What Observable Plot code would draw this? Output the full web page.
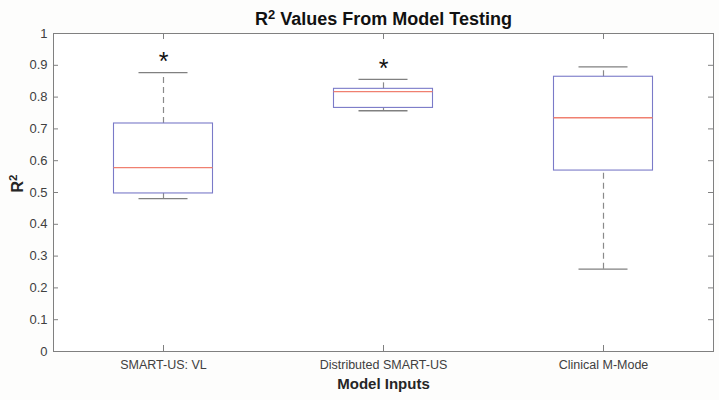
<!DOCTYPE html>
<html>
<head>
<meta charset="utf-8">
<script src="https://cdn.jsdelivr.net/npm/d3@7"></script>
<script src="https://cdn.jsdelivr.net/npm/@observablehq/plot@0.6"></script>
<style>
  html, body { margin: 0; padding: 0; background: #fdfdfc; }
  #chart svg { display: block; }
</style>
</head>
<body>
<div id="chart"></div>
<script>
const categories = ["SMART-US: VL", "Distributed SMART-US", "Clinical M-Mode"];
const whiskerLow = [0.481, 0.757, 0.259];
const q1 = [0.497, 0.766, 0.569];
const median = [0.578, 0.817, 0.735];
const q3 = [0.717, 0.826, 0.864];
const whiskerHigh = [0.877, 0.856, 0.895];
const starCategories = ["SMART-US: VL", "Distributed SMART-US"];
const starY = [0.925, 0.905];
const yTicks = [0, 0.1, 0.2, 0.3, 0.4, 0.5, 0.6, 0.7, 0.8, 0.9, 1];
const title = "R2 Values From Model Testing";
const yLabel = "R2";
const xLabel = "Model Inputs";

const boxes = categories.map((c, i) => ({
  cat: c, lo: whiskerLow[i], q1: q1[i], med: median[i], q3: q3[i], hi: whiskerHigh[i]
}));
const stars = starCategories.map((c, i) => ({cat: c, y: starY[i]}));

const W = 719, H = 400, ML = 53, MR = 6, MT = 33, MB = 49;
const frameW = W - ML - MR, frameH = H - MT - MB;
const font = "'Liberation Sans', Arial, Helvetica, sans-serif";
const axisColor = "#808080";
const textColor = "#404040";

const chart = Plot.plot({
  width: W, height: H,
  marginLeft: ML, marginRight: MR, marginTop: MT, marginBottom: MB,
  style: {background: "#fdfdfc", fontFamily: font},
  x: {domain: categories, padding: 0, label: null},
  y: {domain: [0, 1], label: null},
  marks: [
    Plot.frame({fill: "#ffffff", stroke: null}),
    // whiskers (dashed)
    Plot.ruleX(boxes, {x: "cat", y1: "q3", y2: "hi", stroke: "#8a8a8a", strokeDasharray: "6,4", strokeWidth: 1.2}),
    Plot.ruleX(boxes, {x: "cat", y1: "lo", y2: "q1", stroke: "#8a8a8a", strokeDasharray: "6,4", strokeWidth: 1.2}),
    // whisker caps
    Plot.tickY(boxes, {x: "cat", y: "hi", stroke: "#808080", strokeWidth: 1.3, insetLeft: 85.5, insetRight: 85.5}),
    Plot.tickY(boxes, {x: "cat", y: "lo", stroke: "#808080", strokeWidth: 1.3, insetLeft: 85.5, insetRight: 85.5}),
    // boxes
    Plot.barY(boxes, {x: "cat", y1: "q1", y2: "q3", fill: "none", stroke: "#7a7ac8", strokeWidth: 1.1, insetLeft: 60.5, insetRight: 60.5}),
    // medians
    Plot.tickY(boxes, {x: "cat", y: "med", stroke: "#f08070", strokeWidth: 1.3, insetLeft: 60.5, insetRight: 60.5}),
    // significance stars
    Plot.text(stars, {x: "cat", y: "y", text: () => "*", fontSize: 25, fill: "#111", dy: 5}),
    // frame / axes
    Plot.frame({stroke: axisColor, strokeWidth: 1}),
    Plot.axisY({ticks: yTicks, tickSize: 0, tickPadding: 6, fontSize: 13, fill: textColor, tickFormat: d => String(d)}),
    Plot.axisX({tickSize: 0, tickPadding: 9, fontSize: 12.5, fill: textColor}),
    // inward ticks (MATLAB style)
    Plot.tickY(yTicks, {y: d => d, stroke: axisColor, insetRight: frameW - 5}),
    Plot.tickY(yTicks, {y: d => d, stroke: axisColor, insetLeft: frameW - 5}),
    Plot.tickX(categories, {x: d => d, stroke: axisColor, insetTop: frameH - 6}),
    Plot.tickX(categories, {x: d => d, stroke: axisColor, insetBottom: frameH - 6}),
    // labels
    Plot.text([title], {frameAnchor: "top", lineAnchor: "middle", text: d => d, dy: -14, fontSize: 18, fontWeight: "bold", fill: "#111", className: "suptext"}),
    Plot.text([xLabel], {frameAnchor: "bottom", lineAnchor: "middle", text: d => d, dy: 33, fontSize: 15, fontWeight: "bold", fill: "#262626"}),
    Plot.text([yLabel], {frameAnchor: "left", lineAnchor: "middle", text: d => d, dx: -36, rotate: -90, fontSize: 16, fontWeight: "bold", fill: "#262626", className: "suptext"})
  ]
});

// render "R2" with a superscript 2
chart.querySelectorAll(".suptext text").forEach(t => {
  const s = t.textContent;
  if (!s.startsWith("R2")) return;
  t.textContent = "";
  const ns = "http://www.w3.org/2000/svg";
  const a = document.createElementNS(ns, "tspan"); a.textContent = "R"; t.appendChild(a);
  const b = document.createElementNS(ns, "tspan"); b.textContent = "2";
  b.setAttribute("dy", "-0.45em"); b.setAttribute("font-size", "72%"); t.appendChild(b);
  const rest = s.slice(2);
  if (rest.length) {
    const c = document.createElementNS(ns, "tspan"); c.textContent = rest;
    c.setAttribute("dy", "0.32em"); t.appendChild(c);
  }
});
document.getElementById("chart").appendChild(chart);
</script>
</body>
</html>
